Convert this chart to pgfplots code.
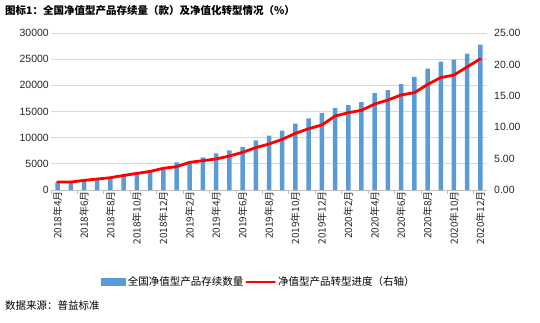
\documentclass[border=0pt]{standalone}
\usepackage{pgfplots}
\pgfplotsset{compat=1.18}
\usepackage{pgfplotstable}
\usepackage{fontspec}
\setmainfont{Liberation Sans}
\newfontfamily\cjk{Noto Sans CJK SC}
\definecolor{barblue}{HTML}{5B9BD5}
\definecolor{gridgray}{HTML}{D9D9D9}
\definecolor{axisgray}{HTML}{BFBFBF}

\pgfplotsset{
  barlegend/.style={legend image code/.code={\fill[barblue] (0pt,-3.5pt) rectangle (24pt,3.5pt);}},
  linelegend/.style={legend image code/.code={\draw[red, line width=2.8pt] (0pt,0pt) -- (28pt,0pt);}},
}

\pgfplotstableread{
x y
0 1460
1 1540
2 1850
3 2110
4 2420
5 2940
6 3380
7 3710
8 4190
9 5270
10 5020
11 6240
12 7010
13 7590
14 8170
15 9460
16 10400
17 11350
18 12700
19 13680
20 14720
21 15630
22 16200
23 16780
24 18500
25 19080
26 20240
27 21600
28 23170
29 24520
30 24900
31 26060
32 27800
}\bars

\pgfplotstableread{
x y
0 1.27
1 1.27
2 1.53
3 1.75
4 1.96
5 2.32
6 2.64
7 2.96
8 3.46
9 3.71
10 4.41
11 4.67
12 4.94
13 5.41
14 6.00
15 6.75
16 7.32
17 8.07
18 9.02
19 9.76
20 10.35
21 11.78
22 12.31
23 12.69
24 13.69
25 14.33
26 15.13
27 15.50
28 16.80
29 17.90
30 18.30
31 19.60
32 20.90
}\rate

\begin{document}
\begin{tikzpicture}
\begin{axis}[
  at={(0pt,0pt)}, anchor=south west,
  scale only axis, width=436pt, height=157pt,
  xmin=-0.5, xmax=32.5, ymin=0, ymax=30000,
  ytick={0,5000,...,30000},
  scaled y ticks=false,
  axis x line*=bottom, axis y line*=left,
  x axis line style={axisgray, line width=0.8pt, -},
  y axis line style={draw=none},
  ymajorgrids, grid style={gridgray, line width=0.8pt},
  ytick style={draw=none},
  xtick={0,2,...,32},
  major x tick style={draw=none},
  xticklabels={2018年4月,2018年6月,2018年8月,2018年10月,2018年12月,2019年2月,2019年4月,2019年6月,2019年8月,2019年10月,2019年12月,2020年2月,2020年4月,2020年6月,2020年8月,2020年10月,2020年12月},
  xticklabel style={rotate=90, anchor=east, font=\fontsize{10}{12}\selectfont\cjk, inner sep=1pt},
  extra x ticks={-0.5,1.5,...,31.5},
  extra x tick labels={},
  extra x tick style={tick align=outside, major tick length=4pt, grid=none,
     major x tick style={draw=axisgray, line width=0.8pt}},
  yticklabel style={font=\fontsize{10.5}{12}\selectfont, inner sep=2pt},
  /pgf/number format/1000 sep={},
  /pgf/number format/assume math mode=true,
  tick label style={text=black!85},
]
\addplot[ybar, bar width=4.5pt, fill=barblue, draw=none] table[x=x,y=y] {\bars};
\end{axis}

\begin{axis}[
  at={(0pt,0pt)}, anchor=south west,
  scale only axis, width=436pt, height=157pt,
  xmin=-0.5, xmax=32.5, ymin=0, ymax=25,
  ytick={0,5,...,25},
  axis y line*=right, hide x axis,
  y axis line style={draw=none},
  ytick style={draw=none},
  yticklabel style={font=\fontsize{10.5}{12}\selectfont, inner sep=2pt, xshift=5pt},
  /pgf/number format/fixed, /pgf/number format/fixed zerofill, /pgf/number format/precision=2,
  /pgf/number format/assume math mode=true,
  tick label style={text=black!85},
  legend columns=2,
  legend style={at={(0.477,-0.586)}, anchor=center, draw=none, fill=none,
    font=\fontsize{10.5}{12}\selectfont\cjk, inner sep=0pt,
    /tikz/every even column/.append style={column sep=0pt}},
]
\addlegendimage{barlegend}
\addlegendentry{全国净值型产品存续数量}
\addplot[red, line width=2.8pt, line join=round, line cap=round, mark=none, linelegend] table[x=x,y=y] {\rate};
\addlegendentry{净值型产品转型进度（右轴）}
\end{axis}

\node[anchor=west, inner sep=0, font=\fontsize{10.5}{12}\selectfont\cjk\bfseries] at (-46pt,179pt) {图标1：全国净值型产品存续量（款）及净值化转型情况（\%）};
\node[anchor=west, inner sep=0, font=\fontsize{10.5}{12}\selectfont\cjk] at (-46pt,-116pt) {数据来源：普益标准};

\pgfresetboundingbox
\useasboundingbox (-51pt,-132pt) rectangle (489pt,190pt);
\end{tikzpicture}
\end{document}
